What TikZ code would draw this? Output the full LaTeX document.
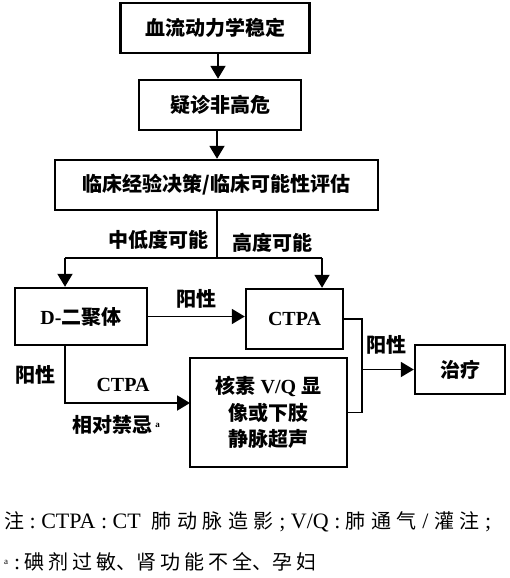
\documentclass[tikz,border=0pt]{standalone}
\usepackage{fontspec}
\setmainfont{Liberation Serif}
\newfontfamily\cjk{Noto Sans CJK SC}
\usetikzlibrary{arrows.meta}
\newcommand{\zh}[1]{{\cjk #1}}
\newcommand{\lat}[1]{{\fontsize{22}{24}\selectfont #1}}
\tikzset{
  box/.style={draw, line width=2.4pt, inner sep=0pt, align=center, font=\fontsize{20}{26.5}\selectfont\bfseries},
  lbl/.style={inner sep=0pt, font=\fontsize{20}{24}\selectfont\bfseries},
  note/.style={inner sep=0pt, anchor=west, font=\fontsize{20}{24}\selectfont},
  conn/.style={line width=1.9pt},
  arr/.style={line width=1.9pt, -{Triangle[length=13pt,width=15pt]}}
}
\begin{document}
\begin{tikzpicture}[x=1pt,y=-1pt]
\useasboundingbox (0,0) rectangle (510,578);
\node[box, minimum width=189pt, minimum height=50pt] (b1) at (215,28) {\zh{血流动力学稳定}};
\node[box, minimum width=162pt, minimum height=50pt] (b2) at (220,105) {\zh{疑诊非高危}};
\node[box, minimum width=323pt, minimum height=50pt] (b3) at (216.5,185) {\zh{临床经验决策/临床可能性评估}};
\node[box, minimum width=132pt, minimum height=57pt] (dd) at (81,316.5) {D-\zh{二聚体}};
\node[box, minimum width=97pt, minimum height=60pt] (ct) at (294.5,319) {CTPA};
\node[box, minimum width=157pt, minimum height=109pt] (vq) at (268.5,412.5) {\zh{核素} V/Q \zh{显}\\\zh{像或下肢}\\\zh{静脉超声}};
\node[box, minimum width=90pt, minimum height=49pt] (tr) at (460,369.5) {\zh{治疗}};

\coordinate (split) at (217,258);
\coordinate (jl) at (65,258);
\coordinate (jr) at (322,258);
\coordinate (mx) at (362,0);
\coordinate (vqin) at (190,403);

\draw[arr] (b1.south -| 218,0) -- (b2.north -| 218,0);
\draw[arr] (b2.south -| 217,0) -- (b3.north -| 217,0);
\draw[conn] (b3.south -| split) -- (split);
\draw[conn] (jl) -- (jr);
\draw[arr] (jl) -- (jl |- dd.north);
\draw[arr] (jr) -- (jr |- ct.north);
\draw[arr] (dd.east) -- (dd.east -| ct.west);
\draw[arr] (jl |- dd.south) |- (vqin);
\draw[conn] (ct.east) -| (mx |- vq.east) -- (vq.east);
\draw[arr] (mx |- tr.west) -- (tr.west);

\node[lbl] (l1) at (158,240) {\zh{中低度可能}};
\node[lbl] (l2) at (272,243) {\zh{高度可能}};
\node[lbl] (l3) at (196,299) {\zh{阳性}};
\node[lbl] (l4) at (35,375) {\zh{阳性}};
\node[lbl] (l5) at (123,385) {CTPA};
\node[lbl] (l6) at (116,425) {\zh{相对禁忌}\,\raisebox{0.6ex}{\fontsize{9}{10}\selectfont a}};
\node[lbl] (l7) at (386,345) {\zh{阳性}};

\node[note] (n1) at (4,522) {\makebox[487pt][l]{\zh{注}\hfill\lat{:}\hfill\lat{CTPA}\hfill\lat{:}\hfill\lat{CT}\hfill\hfill\zh{肺}\hfill\zh{动}\hfill\zh{脉}\hfill\zh{造}\hfill\zh{影}\hfill\lat{;}\hfill\lat{V/Q}\hfill\lat{:}\hfill\zh{肺}\hfill\zh{通}\hfill\zh{气}\hfill\lat{/}\hfill\zh{灌}\hfill\zh{注}\hfill\lat{;}}};
\node[note] (n2) at (4,562) {\makebox[312pt][l]{\raisebox{0.6ex}{\fontsize{9}{10}\selectfont a}\hspace{6pt}\lat{:}\hfill\zh{碘}\hfill\zh{剂}\hfill\zh{过}\hfill\zh{敏}\zh{、}\zh{肾}\hfill\zh{功}\hfill\zh{能}\hfill\zh{不}\hfill\zh{全}\zh{、}\zh{孕}\hfill\zh{妇}}};
\end{tikzpicture}
\end{document}
